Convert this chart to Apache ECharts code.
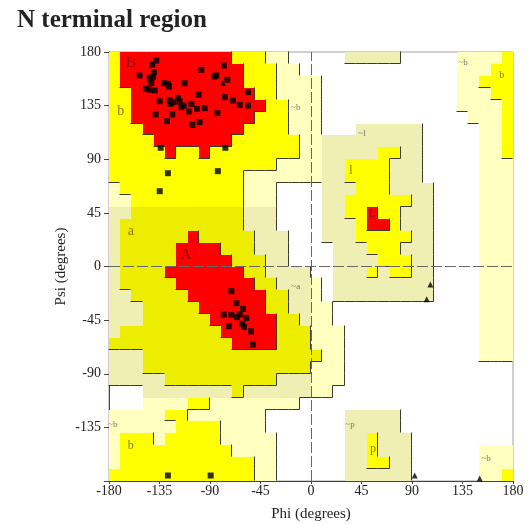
<!DOCTYPE html>
<html><head><meta charset="utf-8">
<script src="https://cdn.jsdelivr.net/npm/echarts@6/dist/echarts.min.js"></script>
<style>html,body{margin:0;padding:0;background:#fff}#c{width:529px;height:524px}</style>
</head><body><div id="c"></div>
<script>
// ---------- data ----------
const chartTitle = 'N terminal region';
const xAxisName = 'Phi (degrees)';
const yAxisName = 'Psi (degrees)';
const axisMin = -180, axisMax = 180, tickStep = 45;
const cellSize = 10;

// Region map, 10° cells; rows from psi 170..180 (top) down to -180..-170 (bottom),
// columns phi -180 .. 180. Run-length encoded: '.' none, p generous, q generous (tinted),
// y allowed, o allowed (tinted), r core.
const regionRows = [
  'y1r10y3p2.5q5.5p4y1',
  'y1r11y3p2.14p3y2',
  'y1r11y3p4.12p2y3',
  'y2r11y2p4.12p3y2',
  'y2r12y2p3.12p4y1',
  'y2r11y3p3.13p3y1',
  'y3r9y4p3.3q6.5p2y1',
  'y4r7y6p2q9.5p2y1',
  'y5r1y2r1y8p2q5y2q2.5p2y1',
  'y15p4q2y4q3.5p3',
  'y12p7q2y4q3.5p3',
  'p1y11p3.4q3y3q4.4p3',
  'p2y10p3.4q2y6q2.4p3',
  'q2o10q3.4q2y2r1y2q3.4p3',
  'q1o11q3.4q3y1r2y1q3.4p3',
  'q1o6r1o5q3.3q3y5q2.4p3',
  'q1o5r4o3q3.4q3y3q3.4p3',
  'q1o5r5o3q2.4q4y3q2.4p3',
  'q1o4r7o2q4.2q3y1q1y2q2.4p3',
  'q1o5r7o2q3p1.1q9.4p3',
  'q2o5r7o2q2p1.1q9.4p3',
  'q3o5r6o2q2p2.13p3',
  'q3o6r6o2q1p2.13p3',
  'q1o9r5o3p3.12p3',
  'o11r4o3p3.12p3',
  'q3o16p2.12p3',
  'q3o15p3.15',
  'q5o10q3p3.15',
  '.3q8o1q6p2.16',
  '.3p4y2p8.19',
  'p5y2p7.7q5.10',
  'p6y4p4.7q5.10',
  'p1y3p1y5p5.6q2y1q3.9',
  'p1y10p4.6q2y1q3.6p3',
  'p1y12p2.6q2y2q2.6p3',
  'y13p2.6q6.6p2y1'
];
const regionCodes  = ['p', 'q', 'y', 'o', 'r'];
const regionColors = ['#ffffc0', '#efefb4', '#ffff00', '#eded00', '#ff0000'];
const regionLevel  = {'.': 0, p: 1, q: 1, y: 2, o: 2, r: 3};

// residues (squares)
const residuePhi = [-137.8,-141.4,-139.9,-152.7,-143.7,-140.8,-142.3,-146.7,-143.7,-139.3,-131.0,-127.4,-126.5,-112.6,-97.7,-77.5,-85.8,-84.3,-74.5,-56.1,-76.6,-69.5,-63.5,-56.1,-100.1,-106.6,-134.8,-125.9,-125.0,-122.4,-118.5,-117.0,-115.5,-113.4,-123.5,-108.7,-101.6,-94.7,-83.4,-138.4,-128.3,-99.2,-105.7,-133.9,-76.3,-127.5,-83.0,-134.8,
  -70.9,-66.5,-60.6,-77.8,-71.0,-65.9,-63.5,-57.6,-73.0,-61.2,-59.7,-53.4,-51.7,-127.5,-89.4];
const residuePsi = [172.9,169.5,163.1,160.3,158.3,158.9,153.8,149.1,148.3,147.7,153.8,153.3,151.0,153.8,165.0,168.7,159.4,160.3,156.7,146.3,142.1,139.3,135.6,135.1,144.1,136.5,138.7,139.3,136.5,137.9,141.5,138.5,133.7,135.1,127.6,130.1,132.3,132.9,128.7,127.6,122.0,121.1,118.9,99.6,99.6,78.3,80.0,63.2,
  -20.7,-30.8,-35.5,-40.3,-40.6,-42.5,-40.3,-43.1,-50.1,-48.1,-50.9,-54.5,-65.4,-175.4,-175.4];
// glycines (triangles)
const glyPhi = [106.4, 103.1, 92.4, 150.3, -78.5];
const glyPsi = [-15.1, -27.4, -175.4, -178.0, 154.0];

// region labels
const regionLabelText = ['B', 'b', 'a', 'A', '~b', '~a', 'l', '~l', 'L', '~b', 'b', '~p', 'p', '~b', 'b', '~b'];
const regionLabelPhi  = [-160.5, -169.5, -160.5, -111.5, -13.6, -13.6, 35.6, 45.4, 54.3, 135.4, 170.0, 34.7, 55.2, -176.6, -160.6, 156.0];
const regionLabelPsi  = [170.3, 130.0, 29.4, 9.2, 133.4, -16.8, 80.6, 111.6, 44.5, 171.0, 160.0, -133.0, -152.6, -132.8, -150.5, -161.0];
const regionLabelSize = [15, 14, 14, 15, 9, 9, 12, 9, 12, 9, 10, 9, 12, 9, 12, 9];
const regionLabelColor= ['#7a0a0a', '#6a5a00', '#6a5a00', '#7a0a0a', '#555', '#555', '#6a5a00', '#555', '#7a1010', '#555', '#6a5a00', '#555', '#6a5a00', '#555', '#6a5a00', '#555'];

// ---------- build ----------
function decodeRow(s) {
  const out = [];
  s.replace(/([a-z.])(\d+)/g, (m, c, n) => { for (let i = 0; i < +n; i++) out.push(c); return m; });
  return out;
}
const grid = regionRows.map(decodeRow);
const nCols = grid[0].length, nRows = grid.length;
const cellData = [], edgeData = [];
for (let k = 0; k < nRows; k++) {
  const psi0 = axisMax - cellSize * (k + 1);
  for (let i = 0; i < grid[k].length; i++) {
    const phi0 = axisMin + cellSize * i;
    const c = grid[k][i];
    if (c !== '.') cellData.push([phi0, psi0, regionCodes.indexOf(c)]);
    const lv = regionLevel[c];
    if (i < nCols - 1 && lv > regionLevel[grid[k][i + 1]]) edgeData.push([phi0 + cellSize, psi0, phi0 + cellSize, psi0 + cellSize]);
    if (k < nRows - 1 && lv > regionLevel[grid[k + 1][i]]) edgeData.push([phi0, psi0, phi0 + cellSize, psi0]);
  }
}

const serif = 'Liberation Serif, Times New Roman, serif';
const chart = echarts.init(document.getElementById('c'), null, {renderer: 'canvas'});
chart.setOption({
  animation: false,
  backgroundColor: '#fff',
  title: {text: chartTitle, left: 12, top: 3,
    textStyle: {fontFamily: serif, fontWeight: 'bold', fontSize: 25, color: '#222'}},
  grid: {left: 109, right: 16, top: 52, bottom: 43, show: true, borderColor: '#a0a0a0', borderWidth: 1,
    containLabel: false, outerBoundsMode: 'none'},
  xAxis: {type: 'value', min: axisMin, max: axisMax, interval: tickStep,
    name: xAxisName, nameLocation: 'middle', nameGap: 26,
    nameTextStyle: {fontFamily: serif, fontSize: 15, color: '#222'},
    axisLine: {show: true, onZero: false, lineStyle: {color: '#444'}},
    axisTick: {show: true, length: 3, lineStyle: {color: '#444'}},
    axisLabel: {fontFamily: serif, fontSize: 14, color: '#222', margin: 3},
    splitLine: {show: false}},
  yAxis: {type: 'value', min: axisMin, max: axisMax, interval: tickStep,
    name: yAxisName, nameLocation: 'middle', nameGap: 40, nameRotate: 90, nameMoveOverlap: false,
    nameTextStyle: {fontFamily: serif, fontSize: 15, color: '#222'},
    axisLine: {show: true, onZero: false, lineStyle: {color: '#444'}},
    axisTick: {show: true, length: 5, lineStyle: {color: '#444'}},
    axisLabel: {fontFamily: serif, fontSize: 14, color: '#222', margin: 8,
      formatter: v => (v === axisMin ? '' : String(v))},
    splitLine: {show: false}},
  series: [
    {type: 'custom', z: 1, silent: true, data: cellData,
      encode: {x: 0, y: 1},
      renderItem: (params, api) => {
        const a = api.coord([api.value(0), api.value(1) + cellSize]);
        const b = api.coord([api.value(0) + cellSize, api.value(1)]);
        const x0 = Math.round(a[0]), y0 = Math.round(a[1]), x1 = Math.round(b[0]), y1 = Math.round(b[1]);
        return {type: 'rect', shape: {x: x0, y: y0, width: x1 - x0, height: y1 - y0},
          style: {fill: regionColors[api.value(2)]}};
      }},
    {type: 'custom', z: 2, silent: true, data: edgeData,
      encode: {x: [0, 2], y: [1, 3]},
      renderItem: (params, api) => {
        const a = api.coord([api.value(0), api.value(1)]);
        const b = api.coord([api.value(2), api.value(3)]);
        const x0 = Math.round(a[0]) - 0.5, y0 = Math.round(a[1]) - 0.5, x1 = Math.round(b[0]) - 0.5, y1 = Math.round(b[1]) - 0.5;
        return {type: 'line', shape: {x1: x0, y1: y0, x2: x1, y2: y1},
          style: {stroke: '#3a3a2a', lineWidth: 1}};
      },
      markLine: {silent: true, symbol: 'none', label: {show: false},
        lineStyle: {color: '#666', type: [11, 3], width: 1},
        data: [{xAxis: 0}, {yAxis: 0}]}},
    {type: 'scatter', z: 4, silent: true, symbolSize: 0,
      data: regionLabelText.map((t, i) => ({value: [regionLabelPhi[i], regionLabelPsi[i]], name: t,
        label: {fontSize: regionLabelSize[i], color: regionLabelColor[i]}})),
      label: {show: true, position: 'inside', formatter: p => p.name, fontFamily: serif}},
    {type: 'scatter', z: 5, silent: true, symbol: 'rect', symbolSize: 6,
      itemStyle: {color: '#000'},
      data: residuePhi.map((v, i) => [v, residuePsi[i]])},
    {type: 'scatter', z: 5, silent: true, symbol: 'triangle', symbolSize: 6,
      itemStyle: {color: '#000'},
      data: glyPhi.map((v, i) => [v, glyPsi[i]])}
  ]
});
</script></body></html>
